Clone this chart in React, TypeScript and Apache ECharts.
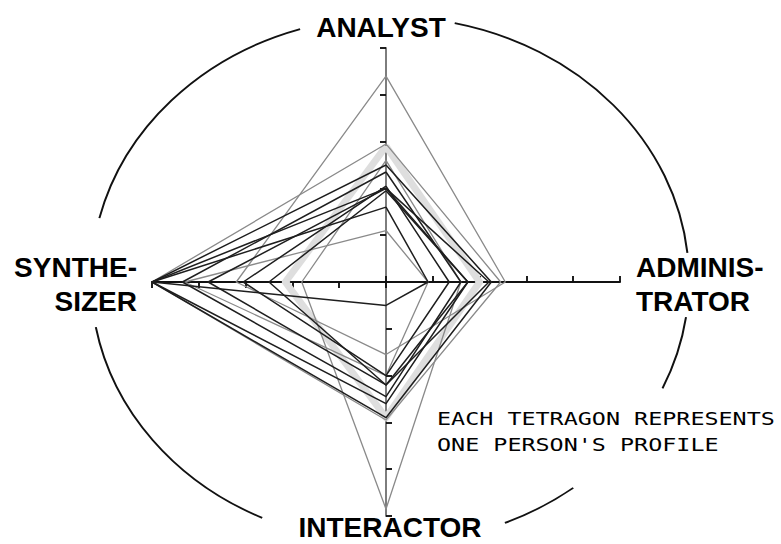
import React, { useEffect, useRef } from 'react';
import * as echarts from 'echarts';

// Axis names, in radar order (top, left, bottom, right)
const axisNames = ['ANALYST', 'SYNTHE-\nSIZER', 'INTERACTOR', 'ADMINIS-\nTRATOR'];
const axisMin = 0;
const axisMax = 5;

// Each profile: [analyst, synthesizer, interactor, administrator]
const averageProfile = [2.9, 2.15, 2.9, 2.0];
const grayProfiles = [
  [4.4, 3.2, 1.55, 2.55],
  [2.6, 1.8, 4.85, 1.6],
  [1.1, 4.3, 2.0, 0.9],
  [2.95, 5.0, 2.95, 2.45],
];
const darkProfiles = [
  [1.6, 5.0, 0.5, 0.9],
  [2.5, 5.0, 2.9, 2.25],
  [2.0, 5.0, 2.6, 1.75],
  [2.35, 4.35, 2.45, 1.6],
  [2.0, 3.8, 2.2, 2.2],
  [2.05, 3.05, 2.0, 1.35],
  [1.95, 2.5, 2.2, 1.75],
];

const captionLines = ['EACH TETRAGON REPRESENTS', "ONE PERSON'S PROFILE"];

// Decorative surrounding ellipse (broken where labels sit), degrees clockwise from +x
const ellipseArcs = [
  [-77.5, -5.9],
  [8.1, 24.3],
  [52.2, 67.4],
  [115.3, 169.7],
  [193.6, 252.5],
];

export default function App() {
  const ref = useRef<HTMLDivElement>(null);

  useEffect(() => {
    if (!ref.current) return;
    const chart = echarts.init(ref.current, undefined, { renderer: 'svg' });

    const center = [386, 282];
    const radius = 234;
    const ex = 390, ey = 280, rx = 299, ry = 263;

    const indicatorsMain = axisNames.map((n, i) => {
      const o: any = { name: n, min: axisMin, max: axisMax };
      if (i % 2 === 0) o.axisLine = { lineStyle: { color: '#7d7d7d' } };
      return o;
    });
    const indicatorsTicks = axisNames.map((n) => ({ name: n, min: axisMin, max: axisMax }));

    const labelFont = 'bold 28px "Liberation Sans", Arial, sans-serif';
    const labelPos = [
      { x: 381, y: 27, align: 'center' },
      { x: 137, y: 284, align: 'right' },
      { x: 390, y: 527, align: 'center' },
      { x: 636, y: 284, align: 'left' },
    ];

    const graphic: any[] = ellipseArcs.map(([a, b]) => ({
      type: 'arc',
      x: ex,
      y: ey,
      scaleY: ry / rx,
      silent: true,
      shape: { cx: 0, cy: 0, r: rx, startAngle: (a * Math.PI) / 180, endAngle: (b * Math.PI) / 180, clockwise: true },
      style: { stroke: '#111', lineWidth: 2, fill: null },
    }));
    axisNames.forEach((n, i) => {
      const p = labelPos[i];
      graphic.push({
        type: 'text',
        x: p.x,
        y: p.y,
        silent: true,
        style: {
          text: n,
          x: 0,
          y: 0,
          font: labelFont,
          lineHeight: 34,
          fill: '#000',
          textAlign: p.align,
          textVerticalAlign: 'middle',
          align: p.align,
          verticalAlign: 'middle',
        },
      });
    });
    captionLines.forEach((t, i) => {
      graphic.push({
        type: 'text',
        x: 437,
        y: 419 + i * 26,
        scaleX: 1.3,
        silent: true,
        style: {
          text: t,
          x: 0,
          y: 0,
          font: '18px "DejaVu Sans Mono"',
          fill: '#000',
          textAlign: 'left',
          textVerticalAlign: 'middle',
          align: 'left',
          verticalAlign: 'middle',
        },
      });
    });

    chart.setOption({
      animation: false,
      backgroundColor: '#fff',
      radar: [
        {
          center,
          radius,
          startAngle: 90,
          shape: 'polygon',
          splitNumber: 5,
          indicator: indicatorsMain,
          axisName: { show: false },
          axisLine: { show: true, lineStyle: { color: '#111', width: 2 } },
          axisTick: { show: true, length: 6, lineStyle: { color: '#111', width: 1.5 } },
          axisLabel: { show: false },
          splitLine: { show: false },
          splitArea: { show: false },
        },
        {
          center,
          radius,
          startAngle: 90,
          shape: 'polygon',
          splitNumber: 5,
          indicator: indicatorsTicks,
          axisName: { show: false },
          axisLine: { show: false },
          axisTick: { show: true, inside: true, length: 6, lineStyle: { color: '#111', width: 1.5 } },
          axisLabel: { show: false },
          splitLine: { show: false },
          splitArea: { show: false },
        },
      ],
      series: [
        {
          type: 'radar',
          radarIndex: 0,
          symbol: 'none',
          silent: true,
          data: [
            { value: averageProfile, lineStyle: { color: '#dedede', width: 7, join: 'round' } },
            ...grayProfiles.map((v) => ({ value: v, lineStyle: { color: '#8a8a8a', width: 1.3 } })),
            ...darkProfiles.map((v) => ({ value: v, lineStyle: { color: '#1e1e1e', width: 1.5 } })),
          ],
        },
      ],
      graphic,
    });

    return () => chart.dispose();
  }, []);

  return (
    <div
      ref={ref}
      style={{ position: 'fixed', left: 0, top: 0, width: 781, height: 544, background: '#fff' }}
    />
  );
}
